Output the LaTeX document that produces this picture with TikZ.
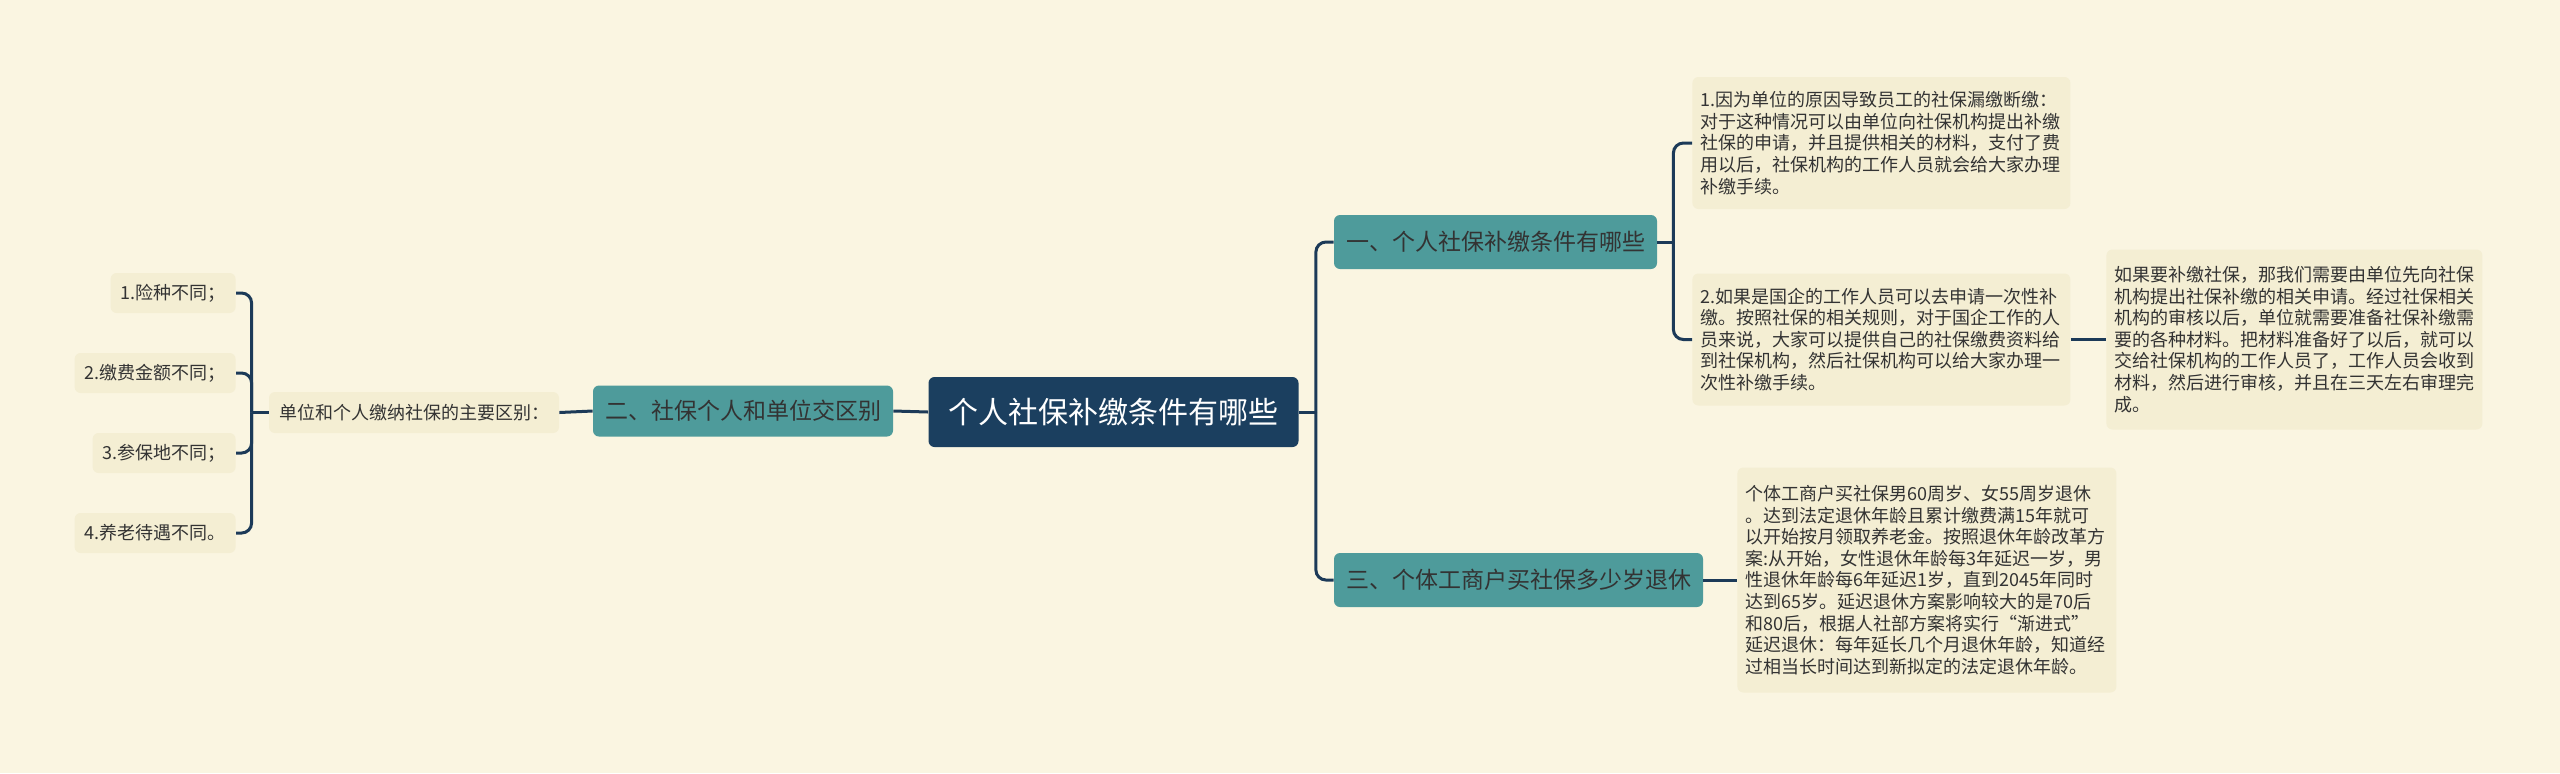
\documentclass[tikz,border=0pt]{standalone}
\usepackage{fontspec}
\setmainfont{Noto Sans CJK SC}
\definecolor{paper}{HTML}{FAF5E1}
\definecolor{navy}{HTML}{1B3F5F}
\definecolor{wirecol}{HTML}{1C3A58}
\definecolor{mapteal}{HTML}{4E9B9B}
\definecolor{leaffill}{HTML}{F4EED3}
\definecolor{ink}{HTML}{333333}
\tikzset{
  topic/.style = {fill=navy, text=white, rounded corners=3pt, inner sep=0pt,
    minimum width=185pt, minimum height=35pt, font=\fontsize{15}{18}\selectfont},
  branch/.style = {fill=mapteal, text=ink, rounded corners=3pt, inner sep=0pt,
    minimum height=27pt, font=\fontsize{11.5}{14}\selectfont},
  leaf/.style = {fill=leaffill, text=ink, rounded corners=3pt, inner xsep=4pt, inner ysep=0pt,
    align=left, anchor=west, font=\fontsize{9}{10.8}\selectfont},
  item/.style = {fill=leaffill, text=ink, rounded corners=3pt, inner xsep=5pt, inner ysep=0pt,
    minimum height=20pt, font=\fontsize{9}{11}\selectfont},
  wire/.style = {draw=wirecol, line width=1.5pt, rounded corners=5pt}
}

\begin{document}
\begin{tikzpicture}[x=0.5pt,y=-0.5pt]
  \fill[paper] (0,0) rectangle (2560,773);
  \useasboundingbox (0,0) rectangle (2560,773);
  % centre and main branches
  \node[topic] (root) at (1113.5,412) {个人社保补缴条件有哪些};
  \node[branch, minimum width=161.5pt] (b1) at (1495.5,242) {一、个人社保补缴条件有哪些};
  \node[branch, minimum width=184.5pt] (b3) at (1518.5,580) {三、个体工商户买社保多少岁退休};
  \node[branch, minimum width=150pt, minimum height=25.5pt] (b2) at (743,411) {二、社保个人和单位交区别};
  % right leaves
  \node[leaf, text width=181pt, minimum height=66pt] (l1) at (1692,143) {1.因为单位的原因导致员工的社保漏缴断缴：\\对于这种情况可以由单位向社保机构提出补缴\\社保的申请，并且提供相关的材料，支付了费\\用以后，社保机构的工作人员就会给大家办理\\补缴手续。};
  \node[leaf, text width=181pt, minimum height=66pt] (l2) at (1692,339.5) {2.如果是国企的工作人员可以去申请一次性补\\缴。按照社保的相关规则，对于国企工作的人\\员来说，大家可以提供自己的社保缴费资料给\\到社保机构，然后社保机构可以给大家办理一\\次性补缴手续。};
  \node[leaf, text width=180pt, minimum height=90pt] (l2a) at (2106,339.5) {如果要补缴社保，那我们需要由单位先向社保\\机构提出社保补缴的相关申请。经过社保相关\\机构的审核以后，单位就需要准备社保补缴需\\要的各种材料。把材料准备好了以后，就可以\\交给社保机构的工作人员了，工作人员会收到\\材料，然后进行审核，并且在三天左右审理完\\成。};
  \node[leaf, text width=181.5pt, minimum height=112.5pt] (l3) at (1737,580) {个体工商户买社保男60周岁、女55周岁退休\\。达到法定退休年龄且累计缴费满15年就可\\以开始按月领取养老金。按照退休年龄改革方\\案:从开始，女性退休年龄每3年延迟一岁，男\\性退休年龄每6年延迟1岁，直到2045年同时\\达到65岁。延迟退休方案影响较大的是70后\\和80后，根据人社部方案将实行“渐进式”\\延迟退休：每年延长几个月退休年龄，知道经\\过相当长时间达到新拟定的法定退休年龄。};
  % left side
  \node[item, minimum width=144pt, minimum height=20.5pt] (lab) at (414,412.5) {单位和个人缴纳社保的主要区别：};
  \node[item, anchor=east] (i1) at (236,293) {1.险种不同；};
  \node[item, anchor=east] (i2) at (236,373) {2.缴费金额不同；};
  \node[item, anchor=east] (i3) at (236,453) {3.参保地不同；};
  \node[item, anchor=east] (i4) at (236,533) {4.养老待遇不同。};
  % connectors
  \draw[wire] (root.east) -- ++(17,0) coordinate (rj);
  \draw[wire] (rj) |- (b1.west);
  \draw[wire] (rj) |- (b3.west);
  \draw[wire] (b1.east) -- ++(16,0) coordinate (j1);
  \draw[wire] (j1) |- (l1.west);
  \draw[wire] (j1) |- (l2.west);
  \draw[wire] (l2.east) -- (l2a.west);
  \draw[wire] (b3.east) -- (l3.west);
  \draw[wire] (root.west) -- (b2.east);
  \draw[wire] (b2.west) -- (lab.east);
  \draw[wire] (lab.west) -- ++(-17,0) coordinate (lj);
  \foreach \i in {i1,i2,i3,i4}
    \draw[wire] (lj) |- (\i.east);
\end{tikzpicture}
\end{document}
